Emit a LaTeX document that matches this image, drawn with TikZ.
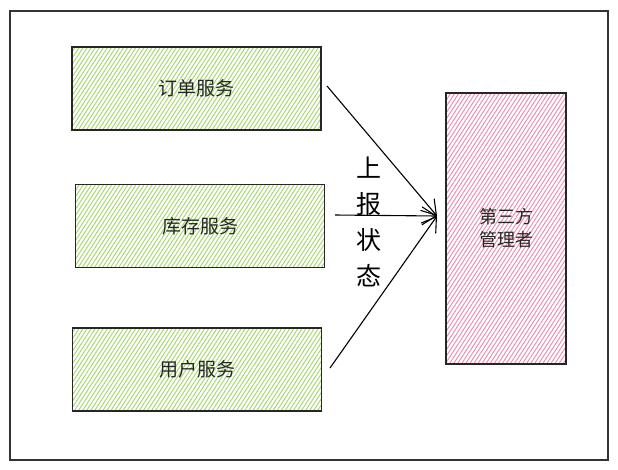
\documentclass[tikz,border=0pt]{standalone}
\usepackage{fontspec}
\setmainfont{Noto Sans CJK SC}
\usetikzlibrary{patterns.meta,arrows.meta}
\definecolor{hgreen}{HTML}{A8D872}
\definecolor{hpink}{HTML}{EC8FB0}
\tikzset{
  frame/.style={draw=black!80, line width=1.2pt},
  svcbox/.style={draw=black!85, line width=1.4pt, minimum width=249pt, minimum height=83pt,
    pattern={Lines[angle=57,distance=3.4pt,line width=1pt]}, pattern color=hgreen,
    font=\fontsize{19pt}{21pt}\selectfont, text=black!85, inner sep=0pt},
  mgrbox/.style={draw=black!85, line width=1.4pt, minimum width=120pt, minimum height=271pt,
    pattern={Lines[angle=57,distance=3.4pt,line width=1pt]}, pattern color=hpink,
    font=\fontsize{18pt}{23pt}\selectfont, text=black!85, inner sep=0pt, align=center},
  flow/.style={draw=black, line width=1.1pt, -{Straight Barb[length=14pt,width=18pt,line width=1.1pt]}},
  lbl/.style={font=\fontsize{25pt}{36pt}\selectfont, align=center, inner sep=2pt}
}
\begin{document}
\begin{tikzpicture}[x=1pt,y=-1pt]
\useasboundingbox (0,0) rectangle (618,469);
\draw[frame] (10,11) rectangle (608,460);
\node[svcbox] (order) at (196.5,88.5) {订单服务};
\node[svcbox] (stock) at (200,226) {库存服务};
\node[svcbox] (user) at (197,369.5) {用户服务};
\node[mgrbox] (mgr) at (506,228.5) {第三方\\管理者};
\coordinate (tip) at (437,216);
\coordinate (s1) at (327,86);
\coordinate (s2) at (335,215);
\coordinate (s3) at (330,368);
\draw[flow] (s1) -- (tip);
\draw[flow] (s3) -- (tip);
\draw[flow] (s2) -- (tip);
\node[lbl] (status) at (369,222) {上\\报\\状\\态};
\end{tikzpicture}
\end{document}
